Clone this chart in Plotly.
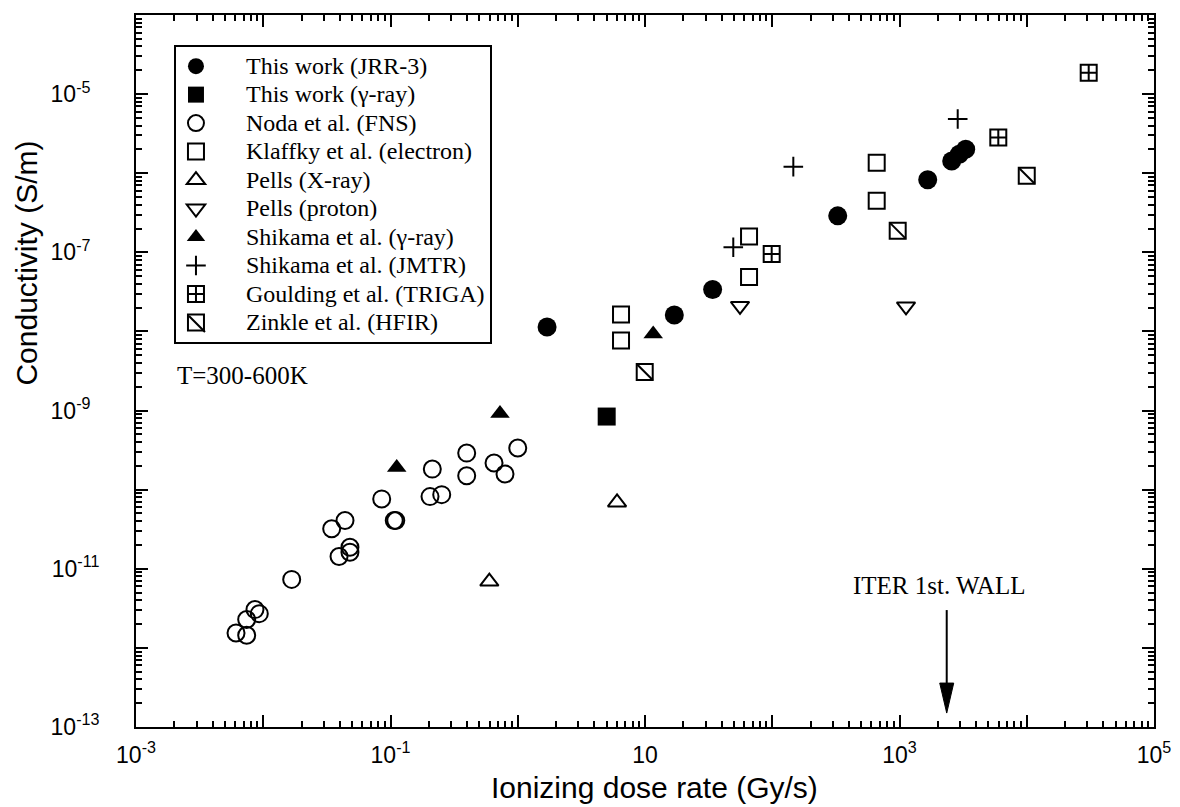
import math
import plotly.graph_objects as go

# ---------------- data ----------------
x_jrr3 = [1.70, 17.0, 34.0, 327, 1666, 2572, 2951, 3313]
y_jrr3 = [1.14e-8, 1.61e-8, 3.39e-8, 2.89e-7, 8.25e-7, 1.43e-6, 1.74e-6, 2.01e-6]

x_gamma = [5.0]
y_gamma = [8.4e-10]

x_noda = [0.00611, 0.00741, 0.00741, 0.00861, 0.00931, 0.01673, 0.0345, 0.0439,
          0.0394, 0.0480, 0.0480, 0.0853, 0.107, 0.110, 0.2044, 0.2527, 0.2131,
          0.397, 0.397, 0.651, 0.794, 1.0]
y_noda = [1.545e-12, 1.445e-12, 2.28e-12, 3.05e-12, 2.71e-12, 7.34e-12, 3.20e-11, 4.07e-11,
          1.43e-11, 1.62e-11, 1.87e-11, 7.64e-11, 4.07e-11, 4.07e-11, 8.17e-11, 8.65e-11, 1.82e-10,
          2.90e-10, 1.50e-10, 2.17e-10, 1.58e-10, 3.36e-10]

x_klaffky = [6.48, 6.48, 65.7, 65.7, 662, 662]
y_klaffky = [1.64e-8, 7.71e-9, 1.58e-7, 4.89e-8, 1.36e-6, 4.49e-7]

x_pells_x = [0.598, 6.03]
y_pells_x = [6.9e-12, 6.9e-11]

x_pells_p = [55.8, 1125]
y_pells_p = [2.1e-8, 2.07e-8]

x_shik_g = [0.1119, 0.725, 11.6]
y_shik_g = [1.9e-10, 9.2e-10, 9.3e-9]

x_shik_j = [49.4, 146.4, 2867]
y_shik_j = [1.16e-7, 1.21e-6, 4.85e-6]

x_gould = [99.0, 5976, 30680]
y_gould = [9.52e-8, 2.82e-6, 1.86e-5]

x_zinkle = [9.95, 968, 10000]
y_zinkle = [3.07e-9, 1.88e-7, 9.27e-7]

names = ["This work (JRR-3)", "This work (\u03b3-ray)", "Noda et al. (FNS)",
         "Klaffky et al. (electron)", "Pells (X-ray)", "Pells (proton)",
         "Shikama et al. (\u03b3-ray)", "Shikama et al. (JMTR)",
         "Goulding et al. (TRIGA)", "Zinkle et al. (HFIR)"]

x_exps = list(range(-3, 6))
x_labels = ["10<sup>-3</sup>", "", "10<sup>-1</sup>", "", "10", "", "10<sup>3</sup>", "", "10<sup>5</sup>"]
y_exps = list(range(-13, -3))
y_labels = ["10<sup>-13</sup>", "", "10<sup>-11</sup>", "", "10<sup>-9\u00a0\u00a0</sup>", "",
            "10<sup>-7\u00a0\u00a0</sup>", "", "10<sup>-5\u00a0\u00a0</sup>", ""]

ITER_DOSE = 2350.0      # Gy/s, ITER first wall
ARROW_TIP_Y = 1.5e-13

# ---------------- figure ----------------
BLACK = "black"
fig = go.Figure()

def legend_name(s):
    return '<span style="font-size:24px">' + "\u00a0" * 5 + s + "</span>"

def add(xs, ys, name, symbol, size, lw=2, show=True):
    fig.add_trace(go.Scatter(
        x=xs, y=ys, mode="markers", name=legend_name(name), showlegend=show,
        marker=dict(symbol=symbol, size=size, color=BLACK,
                    line=dict(color=BLACK, width=lw))))

add(x_jrr3, y_jrr3, names[0], "circle", 19, 0)
add(x_gamma, y_gamma, names[1], "square", 18, 0)
add(x_noda, y_noda, names[2], "circle-open", 17)
add(x_klaffky, y_klaffky, names[3], "square-open", 16)
add(x_pells_x, y_pells_x, names[4], "triangle-up-open", 16)
add(x_pells_p, y_pells_p, names[5], "triangle-down-open", 16)
add(x_shik_g, y_shik_g, names[6], "triangle-up", 17, 0)
add(x_shik_j, y_shik_j, names[7], "cross-thin-open", 14)
add(x_gould, y_gould, names[8], "square-cross-open", 16)
add(x_zinkle, y_zinkle, names[9], "square-open", 16)
add(x_zinkle, y_zinkle, names[9], "line-nw-open", 16, show=False)

def minor_vals(e0, e1):
    return [m * 10.0 ** e for e in range(e0, e1) for m in range(2, 10)]

tick_font = dict(family="Liberation Sans, Arial", size=23, color=BLACK)
axis_common = dict(type="log", showgrid=False, zeroline=False, showline=True,
                   linecolor=BLACK, linewidth=2, mirror="ticks",
                   ticks="inside", ticklen=12, tickwidth=2, tickcolor=BLACK,
                   tickfont=tick_font)

fig.update_xaxes(range=[-3, 5], tickmode="array",
                 tickvals=[10.0 ** e for e in x_exps], ticktext=x_labels,
                 ticklabelstandoff=6,
                 minor=dict(ticks="inside", ticklen=6, tickwidth=1.5, tickcolor=BLACK,
                            tickmode="array", tickvals=minor_vals(-3, 5), showgrid=False),
                 **axis_common)
fig.update_yaxes(range=[-13, -4], tickmode="array",
                 tickvals=[10.0 ** e for e in y_exps], ticktext=y_labels,
                 ticklabelstandoff=30,
                 minor=dict(ticks="inside", ticklen=6, tickwidth=1.5, tickcolor=BLACK,
                            tickmode="array", tickvals=minor_vals(-13, -4), showgrid=False),
                 **axis_common)

title_font = dict(family="Liberation Sans, Arial", size=30, color=BLACK)
serif = dict(family="Liberation Serif, Times New Roman", size=25, color=BLACK)

fig.update_layout(
    width=1172, height=799,
    margin=dict(l=128, r=26, t=5, b=80),
    plot_bgcolor="white", paper_bgcolor="white",
    legend=dict(x=0.0373, y=0.958, xanchor="left", yanchor="top",
                bordercolor=BLACK, borderwidth=2, bgcolor="rgba(0,0,0,0)",
                font=dict(family="Liberation Serif, Times New Roman", size=19.6, color=BLACK),
                itemwidth=30),
    annotations=[
        dict(text="Conductivity (S/m)", xref="paper", yref="paper", x=-0.108, y=0.651,
             xanchor="center", yanchor="middle",
             textangle=-90, showarrow=False, font=title_font),
        dict(text="Ionizing dose rate (Gy/s)", xref="paper", yref="paper", x=0.509, y=-0.0854,
             xanchor="center", yanchor="middle", showarrow=False, font=title_font),
        dict(text="T=300-600K", xref="paper", yref="paper", x=0.0383, y=0.493,
             xanchor="left", yanchor="middle", showarrow=False, font=serif),
        dict(text="ITER 1st. WALL", xref="x", yref="paper", x=math.log10(ITER_DOSE), xshift=-8,
             y=0.199, xanchor="center", yanchor="middle", showarrow=False, font=serif),
    ],
    shapes=[
        dict(type="line", xref="x", yref="y", x0=ITER_DOSE, x1=ITER_DOSE,
             ysizemode="pixel", yanchor=ARROW_TIP_Y, y0=22, y1=103,
             line=dict(color=BLACK, width=2)),
        dict(type="path", xref="x", yref="y", xsizemode="pixel", ysizemode="pixel",
             xanchor=ITER_DOSE, yanchor=ARROW_TIP_Y, path="M0,0 L-7,30 L7,30 Z",
             fillcolor=BLACK, line=dict(color=BLACK, width=1)),
        # diagonal of the Zinkle legend symbol
        dict(type="line", xref="paper", yref="paper", xsizemode="pixel", ysizemode="pixel",
             xanchor=0.0599, yanchor=0.566, x0=-8, x1=8, y0=8, y1=-8,
             line=dict(color=BLACK, width=2)),
    ],
)

fig.write_html("out.html")
